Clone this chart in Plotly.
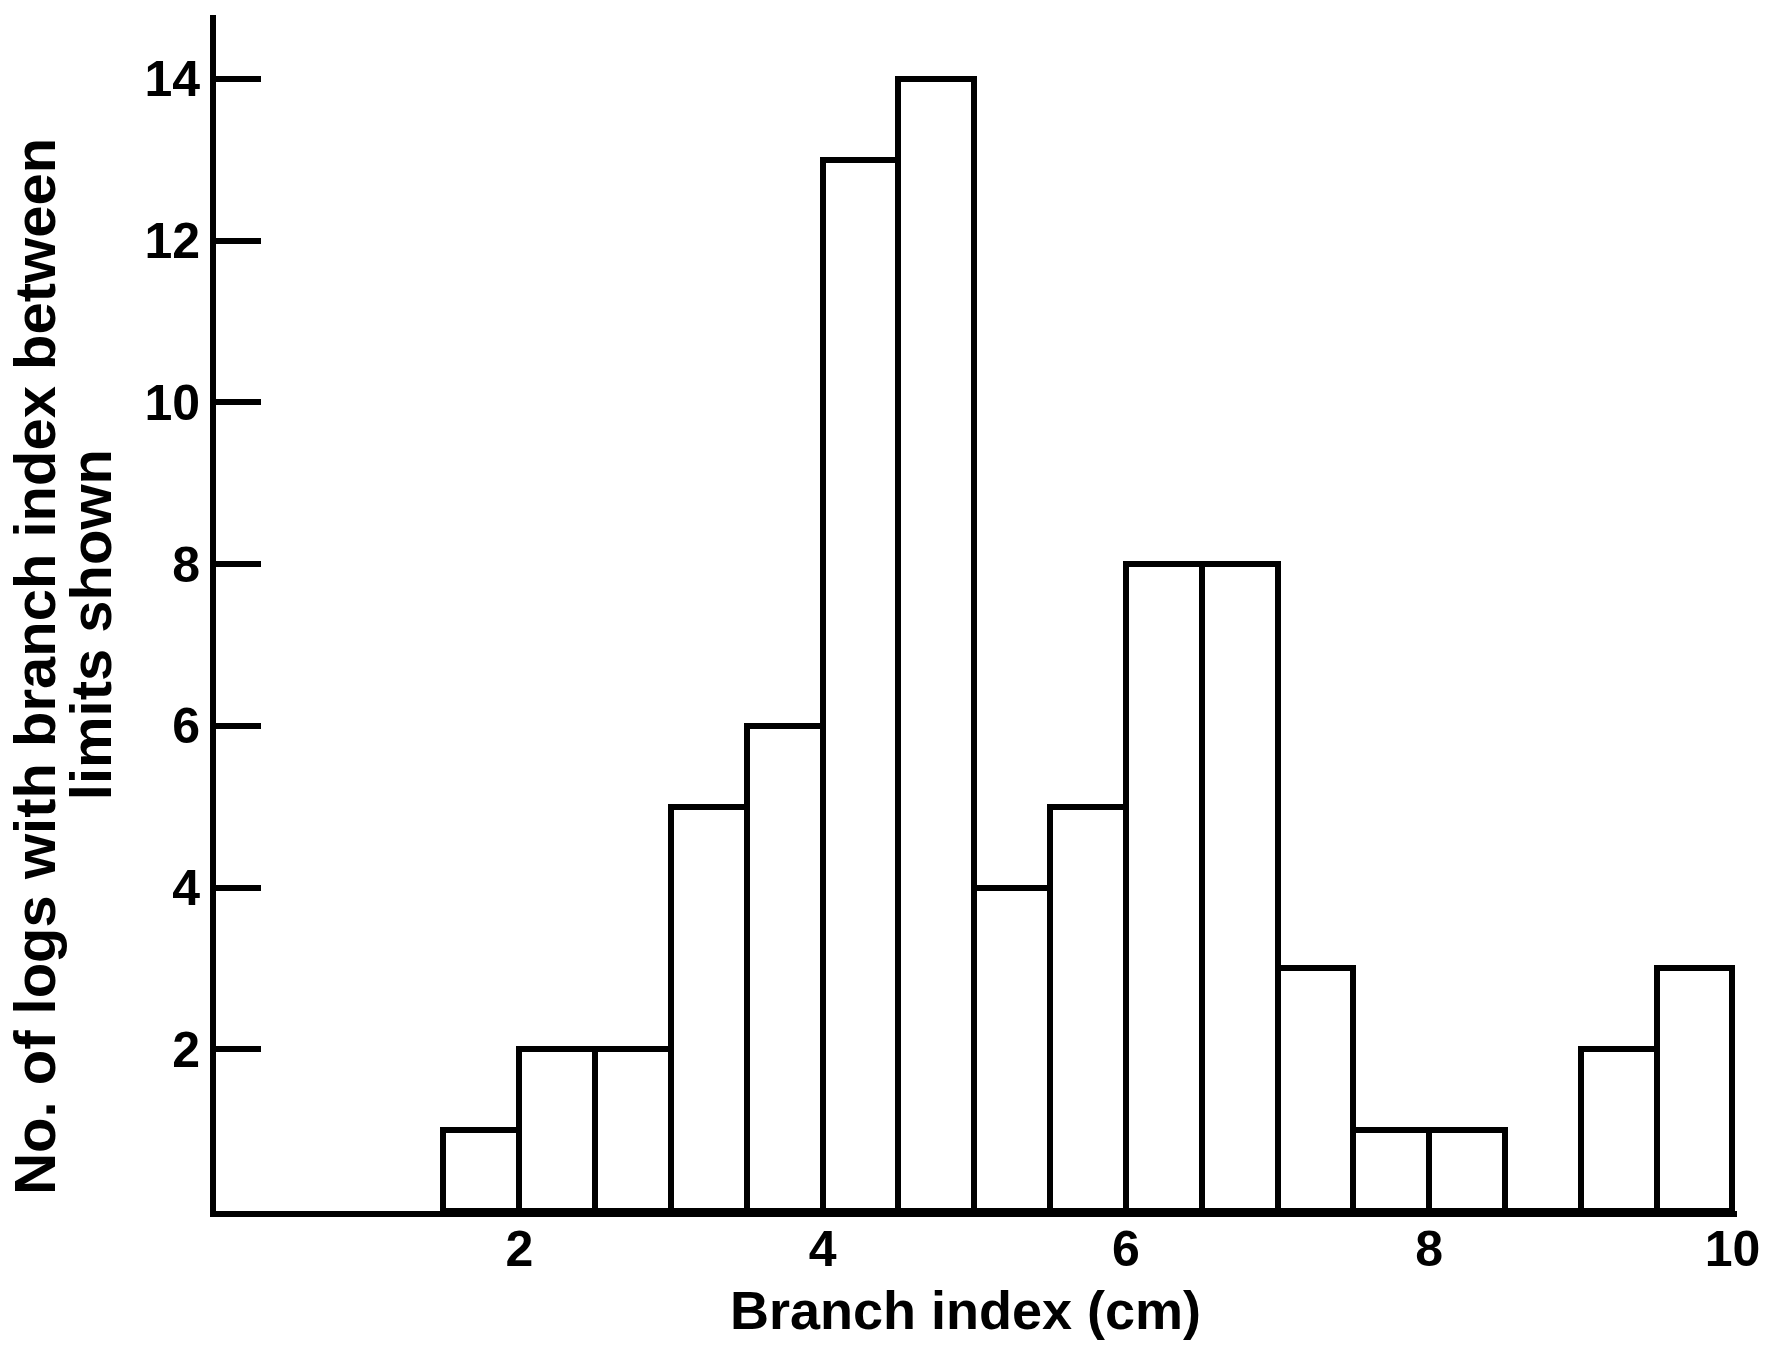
import plotly.graph_objects as go

# Histogram bins (Branch index, cm) — left edges of 0.5 cm classes
bin_left = [1.5, 2.0, 2.5, 3.0, 3.5, 4.0, 4.5, 5.0, 5.5, 6.0, 6.5, 7.0, 7.5, 8.0, 8.5, 9.0, 9.5]
counts = [1, 2, 2, 5, 6, 13, 14, 4, 5, 8, 8, 3, 1, 1, 0, 2, 3]
bin_width = 0.5

x_ticks = [2, 4, 6, 8, 10]
y_ticks = [2, 4, 6, 8, 10, 12, 14]

FONT = "Liberation Sans, Arial, Helvetica, sans-serif"

fig = go.Figure()
fig.add_trace(go.Bar(
    x=[b + bin_width / 2 for b in bin_left],
    y=counts,
    width=[bin_width] * len(counts),
    marker=dict(color="white", line=dict(color="black", width=6)),
    showlegend=False,
))

fig.update_layout(
    width=1782, height=1347,
    margin=dict(l=216, r=45, t=15, b=136),
    paper_bgcolor="white", plot_bgcolor="white",
    bargap=0,
    font=dict(family=FONT, color="black", size=50, weight="bold"),
)

fig.update_xaxes(
    range=[0, 10.03],
    tickvals=x_ticks, ticktext=[str(v) for v in x_ticks],
    showgrid=False, zeroline=False, automargin=False,
    showline=True, linecolor="black", linewidth=6,
    ticks="", ticklabelstandoff=-11,
    tickfont=dict(family=FONT, size=50, weight="bold"),
)
fig.update_yaxes(
    range=[0, 14.79],
    tickvals=y_ticks, ticktext=[str(v) for v in y_ticks],
    showgrid=False, zeroline=False, automargin=False,
    showline=True, linecolor="black", linewidth=6,
    ticks="inside", ticklen=45, tickwidth=6, tickcolor="black",
    ticklabelstandoff=0,
    tickfont=dict(family=FONT, size=50, weight="bold"),
)

fig.add_annotation(
    text="Branch index (cm)",
    xref="paper", yref="paper", x=0.493, y=-0.0825,
    xanchor="center", yanchor="middle", showarrow=False,
    font=dict(family=FONT, size=54, weight="bold", color="black"),
)
fig.add_annotation(
    text="No. of logs with branch index between",
    xref="paper", yref="paper", x=-0.119, y=0.455,
    xanchor="center", yanchor="middle", textangle=-90, showarrow=False,
    font=dict(family=FONT, size=58, weight="bold", color="black"),
)
fig.add_annotation(
    text="limits shown",
    xref="paper", yref="paper", x=-0.082, y=0.49,
    xanchor="center", yanchor="middle", textangle=-90, showarrow=False,
    font=dict(family=FONT, size=58, weight="bold", color="black"),
)

fig.write_html("out.html")
